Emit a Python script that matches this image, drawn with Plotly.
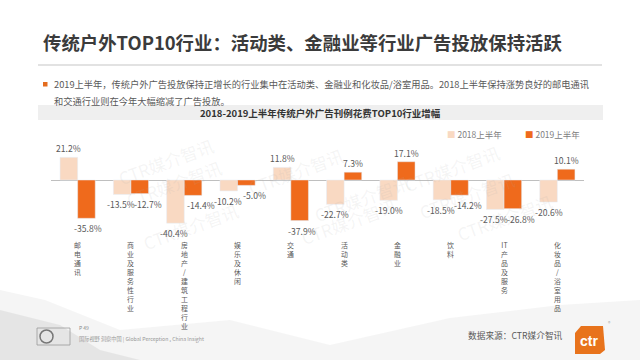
import re
import plotly.graph_objects as go

categories = ["邮电通讯", "商业及服务性行业", "房地产/建筑工程行业", "娱乐及休闲", "交通",
              "活动类", "金融业", "饮料", "IT产品及服务", "化妆品/浴室用品"]
values_2018 = [21.2, -13.5, -40.4, -10.2, 11.8, -22.7, -19.0, -18.5, -27.5, -20.6]
values_2019 = [-35.8, -12.7, -14.4, -5.0, -37.9, 7.3, 17.1, -14.2, -26.8, 10.1]
series_names = ["2018上半年", "2019上半年"]
colors = ["#F9D9C2", "#EF6A1C"]

W, H = 640, 360
L, R, T, B = 51, 56, 140, 125
PW, PH = W - L - R, H - T - B
FONT = "Noto Sans CJK SC, Noto Sans, sans-serif"
BARGAP = 0.34


def px(x):
    return (x - L) / PW


def py(y):
    return (H - B - y) / PH


def vertical(label):
    # stack characters, keeping runs of Latin letters together
    return "<br>".join(re.findall(r"[A-Za-z]+|.", label))


idx = list(range(len(categories)))
fig = go.Figure()
for name, vals, col in zip(series_names, [values_2018, values_2019], colors):
    fig.add_trace(go.Bar(x=idx, y=vals, name=name, marker_color=col, showlegend=False))

ann = []
half = (1 - BARGAP) / 4
for s, vals in enumerate([values_2018, values_2019]):
    other = [values_2019, values_2018][s]
    for i, v in enumerate(vals):
        both_neg = v < 0 and other[i] < 0
        xs = 0
        if both_neg:
            xs = -1 if s == 0 else 8
        elif v < 0 and s == 1:
            xs = 2
        ann.append(dict(text=f"{v:.1f}%", x=i + (-half if s == 0 else half), y=v,
                        xref="x", yref="y", showarrow=False, xshift=xs,
                        yanchor="bottom" if v >= 0 else "top", yshift=1 if v >= 0 else -2,
                        font=dict(size=8.6, color="#595959", family=FONT)))

for i, c in enumerate(categories):
    ann.append(dict(text=vertical(c), x=i, y=0, xref="x", yref="paper",
                    xanchor="center", yanchor="top", yshift=-3, showarrow=False,
                    font=dict(size=6.9, color="#595959", family=FONT)))

for k, (name, col) in enumerate(zip(series_names, colors)):
    ann.append(dict(text=f"<span style='color:{col}'>■</span> {name}",
                    x=px(445 + 78 * k), y=py(134), xref="paper", yref="paper",
                    xanchor="left", yanchor="middle", showarrow=False,
                    font=dict(size=8.5, color="#808080", family=FONT)))

ann.append(dict(text="传统户外TOP10行业：活动类、金融业等行业广告投放保持活跃",
                x=px(41), y=py(42), xref="paper", yref="paper", xanchor="left", yanchor="middle",
                showarrow=False, font=dict(size=18.4, color="#3b3b3b", family=FONT, weight="bold")))
ann.append(dict(text="2019上半年，传统户外广告投放保持正增长的行业集中在活动类、金融业和化妆品/浴室用品。2018上半年保持涨势良好的邮电通讯",
                x=px(52), y=py(84), xref="paper", yref="paper", xanchor="left", yanchor="middle",
                showarrow=False, font=dict(size=9.25, color="#595959", family=FONT)))
ann.append(dict(text="和交通行业则在今年大幅缩减了广告投放。",
                x=px(52), y=py(101), xref="paper", yref="paper", xanchor="left", yanchor="middle",
                showarrow=False, font=dict(size=9.25, color="#595959", family=FONT)))
ann.append(dict(text="2018-2019上半年传统户外广告刊例花费TOP10行业增幅",
                x=px(320), y=py(112.5), xref="paper", yref="paper", xanchor="center", yanchor="middle",
                showarrow=False, font=dict(size=9.5, color="#333333", family=FONT, weight="bold")))
ann.append(dict(text="数据来源：CTR媒介智讯",
                x=px(466), y=py(335), xref="paper", yref="paper", xanchor="left", yanchor="middle",
                showarrow=False, font=dict(size=8.7, color="#595959", family=FONT)))
ann.append(dict(text="P 49",
                x=px(77), y=py(327), xref="paper", yref="paper", xanchor="left", yanchor="middle",
                showarrow=False, font=dict(size=5, color="#888888", family=FONT)))
ann.append(dict(text="国际视野 洞察中国 | Global Perception , China Insight",
                x=px(77), y=py(339), xref="paper", yref="paper", xanchor="left", yanchor="middle",
                showarrow=False, font=dict(size=5.2, color="#999999", family=FONT)))
ann.append(dict(text="<b>ctr</b>",
                x=px(589), y=py(341), xref="paper", yref="paper", xanchor="center", yanchor="middle",
                showarrow=False, font=dict(size=14, color="white", family="Liberation Sans, Arial")))
ann.append(dict(text="®",
                x=px(609), y=py(322), xref="paper", yref="paper", xanchor="center", yanchor="middle",
                showarrow=False, font=dict(size=5, color="#aaaaaa", family=FONT)))

for wx, wy in [(112, 130), (295, 140), (120, 183), (505, 137), (520, 195), (415, 198),
               (137, 258), (348, 253), (558, 249)]:
    ann.append(dict(text="CTR媒介智讯", x=px(wx), y=py(wy), xref="paper", yref="paper",
                    showarrow=False, textangle=-20,
                    font=dict(size=17, color="rgba(170,170,170,0.13)", family=FONT)))

shapes = [
    dict(type="path", xref="paper", yref="paper", layer="below",
         path=f"M {px(0)},{py(360)} L {px(0)},{py(290)} L {px(45)},{py(300)} L {px(120)},{py(330)} "
              f"L {px(230)},{py(320)} L {px(330)},{py(345)} L {px(450)},{py(318)} L {px(560)},{py(305)} "
              f"L {px(640)},{py(300)} L {px(640)},{py(360)} Z",
         fillcolor="rgba(225,225,225,0.35)", line=dict(width=0)),
    dict(type="path", xref="paper", yref="paper", layer="below",
         path=f"M {px(0)},{py(360)} L {px(0)},{py(310)} L {px(60)},{py(325)} L {px(100)},{py(350)} "
              f"L {px(140)},{py(360)} Z",
         fillcolor="rgba(200,200,200,0.35)", line=dict(width=0)),
    dict(type="line", xref="paper", yref="paper", x0=px(38), x1=px(602), y0=py(65), y1=py(65),
         line=dict(color="#d9d9d9", width=1.5)),
    dict(type="rect", xref="paper", yref="paper", x0=px(43), x1=px(47.5), y0=py(82), y1=py(86.5),
         fillcolor="#E46C1E", line=dict(width=0)),
    dict(type="rect", xref="paper", yref="paper", x0=px(38), x1=px(603), y0=py(105), y1=py(120),
         fillcolor="#EFEFEF", line=dict(width=0), layer="below"),
    dict(type="rect", xref="paper", yref="paper", x0=px(37), x1=px(70), y0=py(328), y1=py(345),
         fillcolor="rgba(0,0,0,0)", line=dict(color="#9a9a9a", width=0.8)),
    dict(type="circle", xref="paper", yref="paper", x0=px(40), x1=px(53), y0=py(330), y1=py(343),
         fillcolor="rgba(0,0,0,0)", line=dict(color="#777777", width=1.5)),
    dict(type="path", xref="paper", yref="paper",
         path=f"M {px(575)},{py(333)} L {px(581)},{py(326)} L {px(603)},{py(326)} L {px(605)},{py(350)} "
              f"L {px(600)},{py(354)} L {px(575)},{py(354)} Z",
         fillcolor="#E8731C", line=dict(width=0)),
]

fig.update_layout(
    width=W, height=H,
    margin=dict(l=L, r=R, t=T, b=B, autoexpand=False),
    paper_bgcolor="white", plot_bgcolor="rgba(0,0,0,0)",
    barmode="group", bargap=BARGAP, bargroupgap=0,
    font=dict(family=FONT),
    showlegend=False,
    annotations=ann, shapes=shapes,
    xaxis=dict(showticklabels=False, showgrid=False, showline=False, ticks="",
               range=[-0.5, len(categories) - 0.5]),
    yaxis=dict(range=[-51.4, 37.4], showticklabels=False, showgrid=False, showline=False,
               zeroline=True, zerolinecolor="#BFBFBF", zerolinewidth=1, ticks=""),
)

fig.write_html("out.html", config={"displayModeBar": False},
               post_script="document.body.style.margin='0px';")
